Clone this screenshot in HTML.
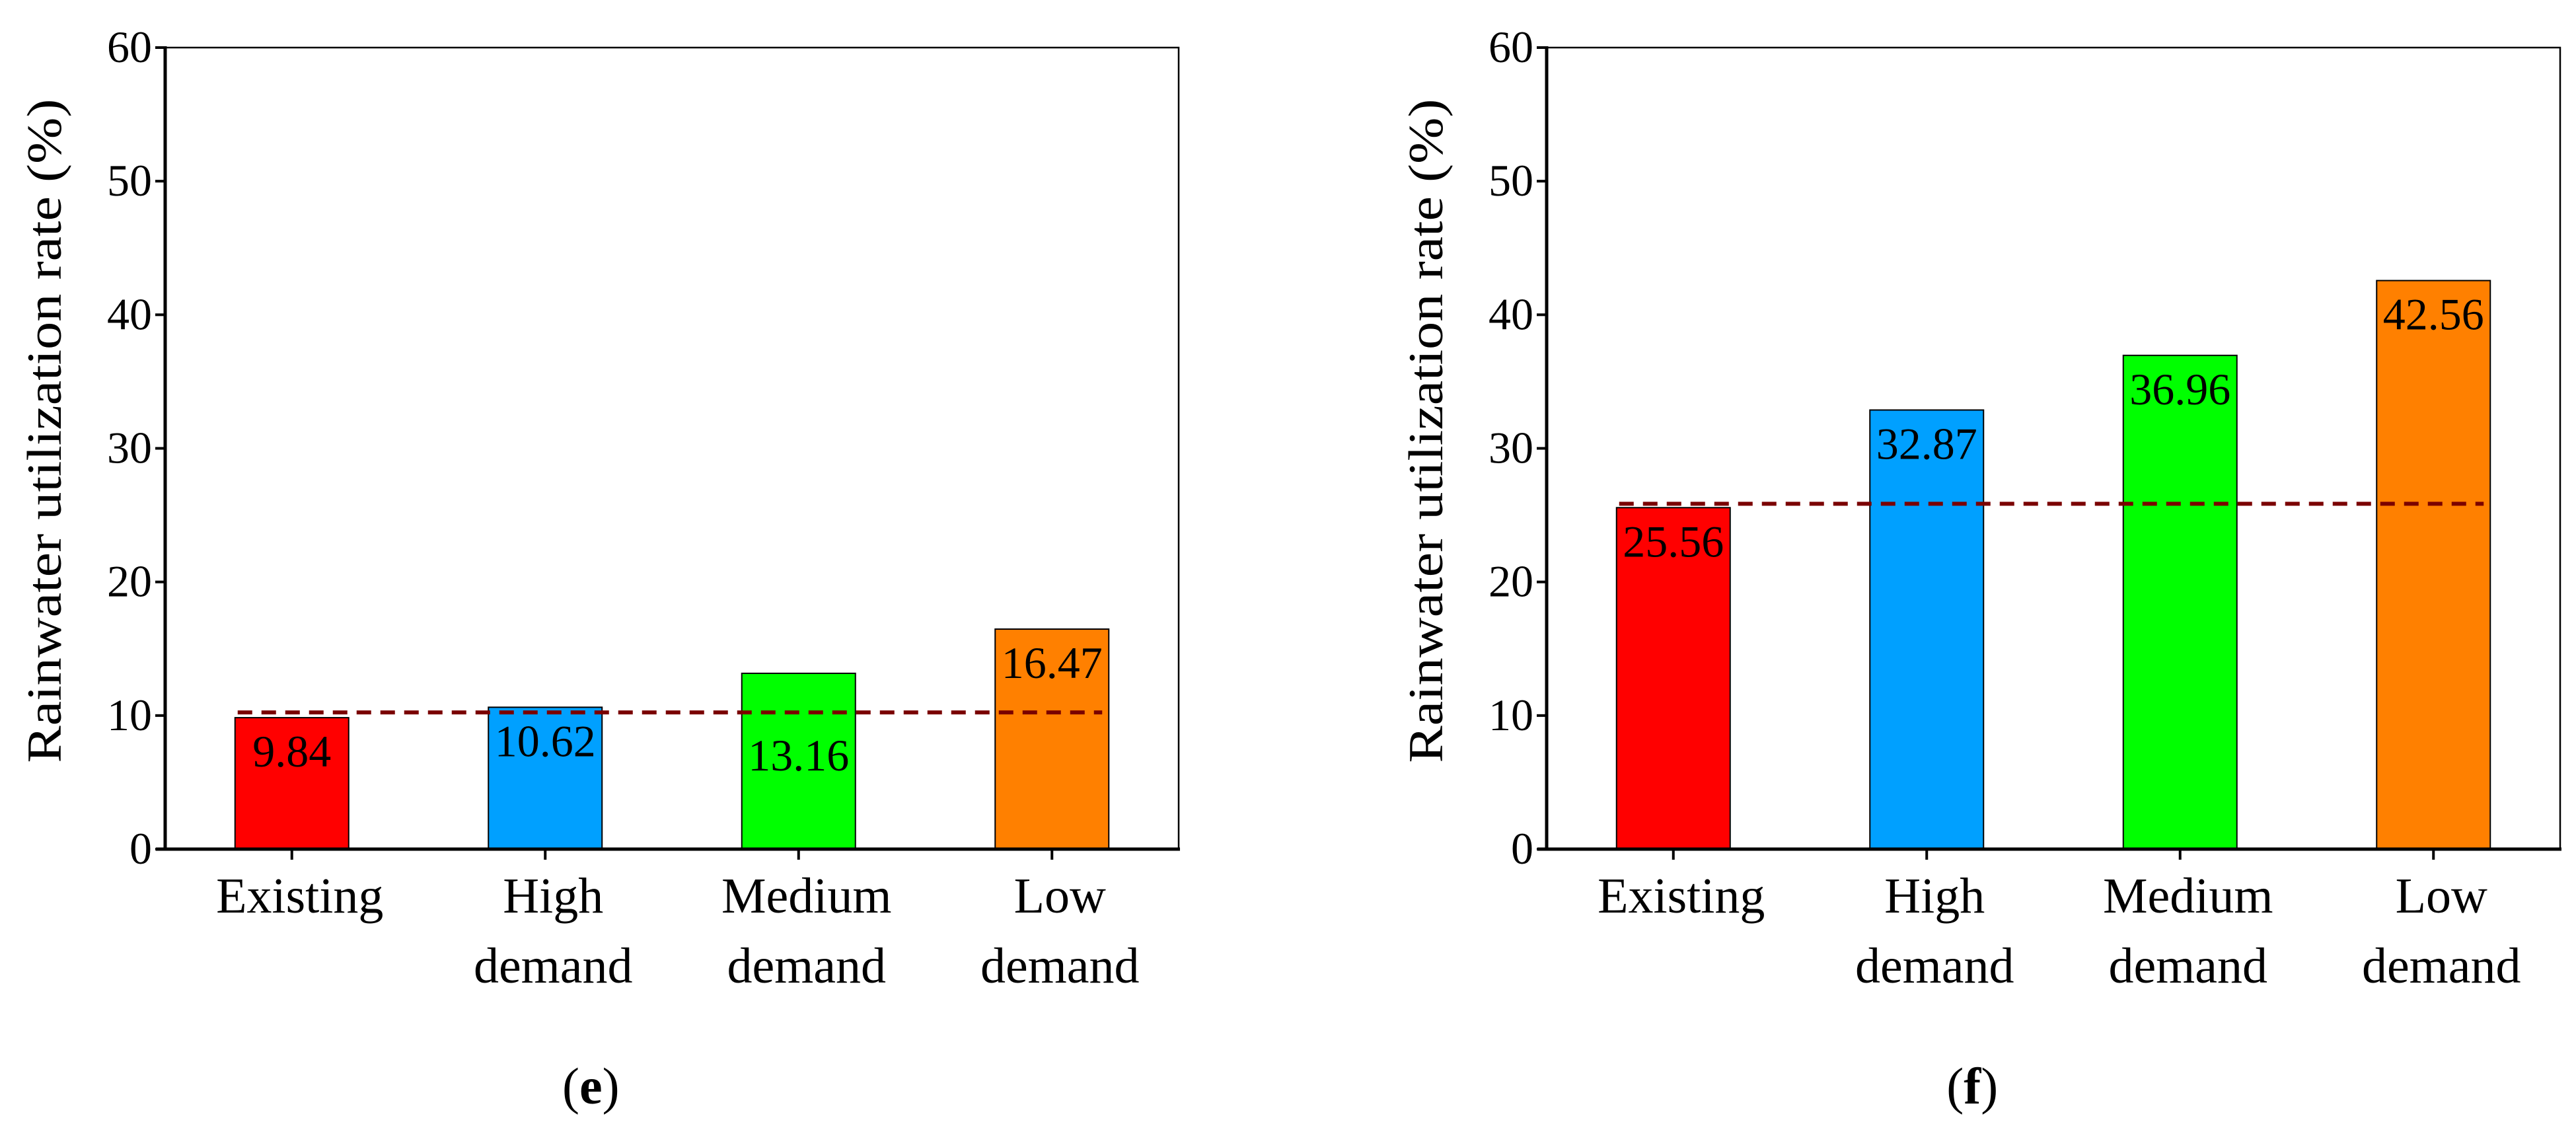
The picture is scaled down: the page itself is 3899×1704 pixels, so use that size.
<!DOCTYPE html>
<html><head><meta charset="utf-8"><style>
html,body{margin:0;padding:0;background:#fff;}
svg{display:block;}
svg text{font-family:"Liberation Serif","DejaVu Serif",serif;fill:#000;}
</style></head><body>
<svg id="chart" width="3899" height="1704" viewBox="0 0 3899 1704" xmlns="http://www.w3.org/2000/svg" font-family="Liberation Serif, DejaVu Serif, serif"></svg>
<script>
const categories = [["Existing"],["High","demand"],["Medium","demand"],["Low","demand"]];
const valuesE = [9.84, 10.62, 13.16, 16.47];
const valuesF = [25.56, 32.87, 36.96, 42.56];
const baselineE = 10.23;
const baselineF = 25.85;
const yTicks = [0,10,20,30,40,50,60];
const colors = ["#ff0000","#00a0ff","#00ff00","#ff8000"];

const NS = "http://www.w3.org/2000/svg";
const svg = document.getElementById('chart');
function mk(tag, attrs, parent){
  const e = document.createElementNS(NS, tag);
  for (const k in attrs) e.setAttribute(k, attrs[k]);
  if (tag === 'text') e.setAttribute('font-family', 'Liberation Serif, DejaVu Serif, serif');
  (parent||svg).appendChild(e);
  return e;
}
const top0 = 72, bot0 = 1285, plotW = 1534;
function yScale(v){ return bot0 - (v/60)*(bot0-top0); }

function panel(x0, values, base, letter, prefix){
  const g = mk('g', {});
  
  
  const band = plotW / values.length;
  const bw = 172;
  function xCenter(i){ return x0 + band*(i+0.5); }
  const fr = mk('rect', {x:x0, y:top0, width:plotW, height:bot0-top0, fill:'none', stroke:'#000', 'stroke-width':2.5}, g);
  
  
  const yLine = yScale(base);
  values.forEach((v,i)=>{
    const r = mk('rect', {x:xCenter(i)-bw/2, y:yScale(v), width:bw, height:bot0-yScale(v), fill:colors[i], stroke:'#000', 'stroke-width':2}, g);
    
    
    let ly = yScale(v)+74;
    if (ly-50 < yLine+10 && ly+10 > yLine-10) ly = yLine+88;
    const t = mk('text', {x:xCenter(i), y:ly, 'font-size':68, 'text-anchor':'middle'}, g);
    t.textContent = v.toFixed(2);
    
    
  });
  const dl = mk('line', {x1:xCenter(0)-bw/2+4, x2:xCenter(values.length-1)+bw/2-10, y1:yLine, y2:yLine, stroke:'#7a0000', 'stroke-width':6, 'stroke-dasharray':'22 14'}, g);
  
  
  const ya = mk('line', {x1:x0, x2:x0, y1:top0-2, y2:bot0+2, stroke:'#000', 'stroke-width':5}, g);
  
  
  const xa = mk('line', {x1:x0-14, x2:x0+plotW+2, y1:bot0, y2:bot0, stroke:'#000', 'stroke-width':5}, g);
  
  
  yTicks.forEach(tv=>{
    const y = yScale(tv);
    const tk = mk('line', {x1:x0-15, x2:x0, y1:y, y2:y, stroke:'#000', 'stroke-width':4}, g);
    
    
    const tl = mk('text', {x:x0-20, y:y+22, 'font-size':68, 'text-anchor':'end'}, g);
    tl.textContent = tv;
    
    
  });
  categories.forEach((c,i)=>{
    const x = xCenter(i);
    const tk = mk('line', {x1:x, x2:x, y1:bot0, y2:bot0+16, stroke:'#000', 'stroke-width':4}, g);
    
    
    c.forEach((line,j)=>{
      const tl = mk('text', {x:x+12, y:1381+j*106, 'font-size':76, 'text-anchor':'middle'}, g);
      tl.textContent = line;
      
      
    });
  });
  const yt = mk('text', {x:0, y:0, 'font-size':74, 'text-anchor':'middle', transform:'translate('+(x0-158)+',652) rotate(-90)', textLength:1005, lengthAdjust:'spacingAndGlyphs'}, g);
  yt.textContent = 'Rainwater utilization rate (%)';
  
  
  const pl = mk('text', {x:x0+plotW*0.42, y:1670, 'font-size':78, 'text-anchor':'middle'}, g);
  pl.innerHTML = '(<tspan font-weight="bold">'+letter+'</tspan>)';
  
  
}
panel(250, valuesE, baselineE, 'e', 'panel-e');
panel(2341, valuesF, baselineF, 'f', 'panel-f');
</script>
</body></html>
